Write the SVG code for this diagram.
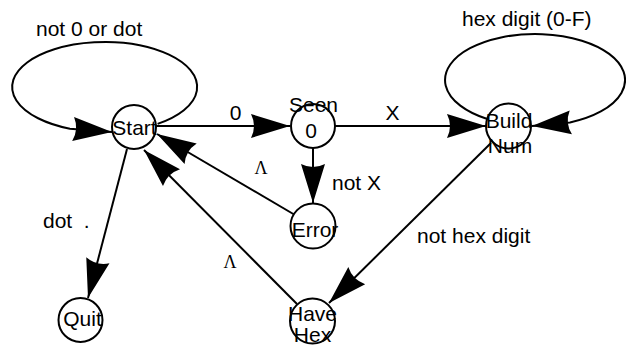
<svg xmlns="http://www.w3.org/2000/svg" width="626" height="347" viewBox="0 0 626 347">
  <style>
    .state { fill: #fff; stroke: #000; stroke-width: 2; }
    .edge { fill: none; stroke: #000; stroke-width: 2; marker-end: url(#arrow); }
    .lbl { font-family: "Liberation Sans", Arial, sans-serif; font-size: 21px; fill: #000; }
    .mid { text-anchor: middle; }
    .lam { font-family: "Liberation Serif", "Times New Roman", serif; font-size: 18px; fill: #000; text-anchor: middle; }
  </style>
  <defs>
    <marker id="arrow" markerUnits="userSpaceOnUse" markerWidth="40" markerHeight="26" viewBox="0 0 40 26" refX="39" refY="13" orient="auto">
      <path d="M0,1 L39,13 L0,25 Q6,13 0,1 Z" fill="#000"/>
    </marker>
  </defs>
  <rect width="626" height="347" fill="#fff"/>

  <!-- transitions -->
  <g id="connectors">
    <!-- self loop on Start -->
    <path class="edge" d="M157.6,123.9 A92.5,45 0 1 0 69.9,128.7 L112,132"/>
    <text class="lbl" x="36" y="35.5">not 0 or dot</text>
    <!-- self loop on Build Num -->
    <path class="edge" d="M487.3,119 A90,46 0 1 1 570,122.4 L532,126"/>
    <text class="lbl" x="462" y="26">hex digit (0-F)</text>
    <!-- Start -> Seen 0 -->
    <path class="edge" d="M156,126 L290,126"/>
    <text class="lbl mid" x="235.5" y="120">0</text>
    <!-- Seen 0 -> Build Num -->
    <path class="edge" d="M335,126 L486,126"/>
    <text class="lbl mid" x="392.5" y="120">X</text>
    <!-- Seen 0 -> Error -->
    <path class="edge" d="M313,148 L313,203"/>
    <text class="lbl" x="332" y="190">not X</text>
    <!-- Error -> Start -->
    <path class="edge" d="M295,215 L157,134"/>
    <text class="lam" x="261" y="174">Λ</text>
    <!-- Have Hex -> Start -->
    <path class="edge" d="M297,304 L144,150"/>
    <text class="lam" x="230" y="268">Λ</text>
    <!-- Start -> Quit -->
    <path class="edge" d="M127,149 L88,298"/>
    <text class="lbl" x="43" y="228" xml:space="preserve">dot  .</text>
    <!-- Build Num -> Have Hex -->
    <path class="edge" d="M491,143 L329,303"/>
    <text class="lbl" x="417" y="243">not hex digit</text>
  </g>

  <g id="start">
    <circle class="state" cx="134" cy="127" r="22"/>
    <text class="lbl mid" x="134.5" y="135">Start</text>
  </g>
  <g id="seen0">
    <circle class="state" cx="313" cy="126" r="22"/>
    <text class="lbl mid" x="313.5" y="112">Seen</text>
    <text class="lbl mid" x="311" y="138">0</text>
  </g>
  <g id="buildnum">
    <circle class="state" cx="508.5" cy="126" r="22.5"/>
    <text class="lbl mid" x="509" y="128">Build</text>
    <text class="lbl mid" x="510" y="153">Num</text>
  </g>
  <g id="error">
    <circle class="state" cx="313" cy="226" r="22.5"/>
    <text class="lbl mid" x="315" y="237">Error</text>
  </g>
  <g id="quit">
    <circle class="state" cx="80.5" cy="320" r="22"/>
    <text class="lbl mid" x="82.5" y="326">Quit</text>
  </g>
  <g id="havehex">
    <circle class="state" cx="312.5" cy="321" r="22.5"/>
    <text class="lbl mid" x="312.5" y="321">Have</text>
    <text class="lbl mid" x="312.5" y="342">Hex</text>
  </g>
</svg>
